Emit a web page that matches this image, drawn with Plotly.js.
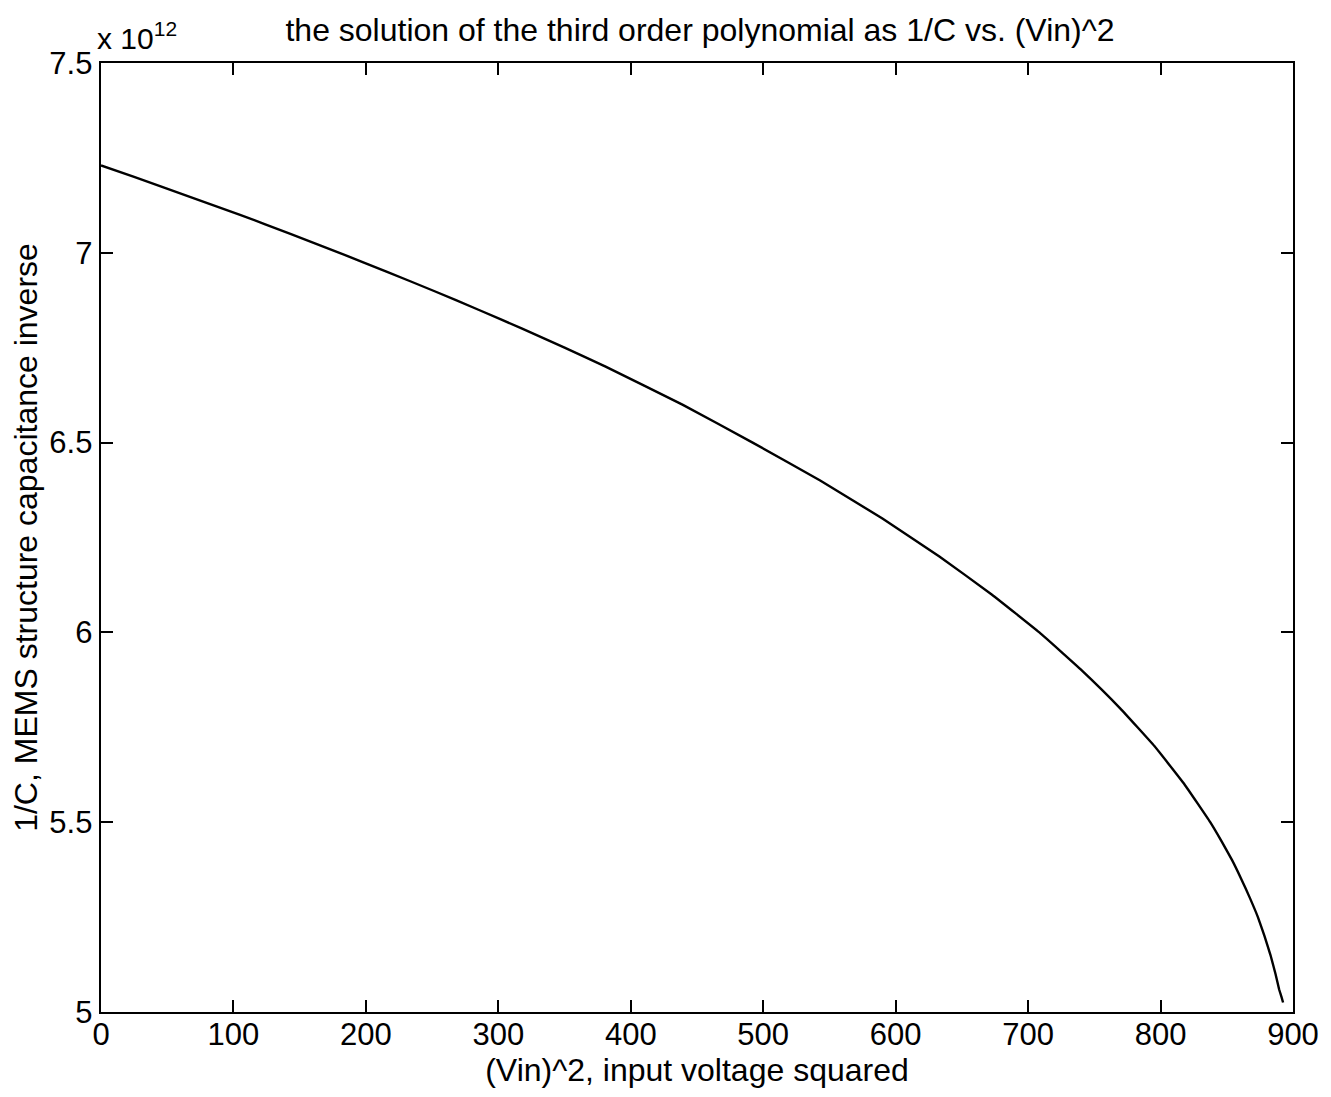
<!DOCTYPE html>
<html>
<head>
<meta charset="utf-8">
<script src="https://cdn.plot.ly/plotly-3.0.1.min.js"></script>
<style>
  html, body { margin: 0; padding: 0; background: #ffffff; }
  #chart { width: 1331px; height: 1097px; }
</style>
</head>
<body>
<div id="chart"></div>
<script>
// (Vin)^2 values
const vinSquared = [0, 25, 65, 105, 143, 180, 216, 251, 285, 318, 350, 381, 439, 492, 543, 590, 633, 672.5, 708.5, 740.5, 769.5, 795.5, 818, 837.5, 846, 854, 861, 867.5, 873.5, 878.5, 883, 886.8, 889.5, 891.3, 892.5];
// 1/C values, in units of 10^12
const invCapacitance = [7.23, 7.20, 7.15, 7.10, 7.05, 7.00, 6.95, 6.90, 6.85, 6.80, 6.75, 6.70, 6.60, 6.50, 6.40, 6.30, 6.20, 6.10, 6.00, 5.90, 5.80, 5.70, 5.60, 5.50, 5.45, 5.40, 5.35, 5.30, 5.25, 5.20, 5.15, 5.10, 5.06, 5.04, 5.025];

const xTicks = [0, 100, 200, 300, 400, 500, 600, 700, 800, 900];
const yTicks = [5, 5.5, 6, 6.5, 7, 7.5];
const yTickLabels = ['5', '5.5', '6', '6.5', '7', '7.5'];

const titleText = 'the solution of the third order polynomial as 1/C vs. (Vin)^2';
const xTitle = '(Vin)^2, input voltage squared';
const yTitle = '1/C, MEMS structure capacitance inverse';
const exponentText = 'x 10<sup>12</sup>';

const FONT = 'Liberation Sans, Arial, Helvetica, sans-serif';

const trace = {
  x: vinSquared,
  y: invCapacitance,
  type: 'scatter',
  mode: 'lines',
  line: { color: '#000000', width: 2.4, shape: 'spline', smoothing: 0.3 },
  hoverinfo: 'skip',
  showlegend: false
};

const axisCommon = {
  showline: true,
  linecolor: '#000000',
  linewidth: 2.4,
  mirror: 'ticks',
  ticks: 'inside',
  ticklen: 12,
  tickwidth: 2,
  tickcolor: '#000000',
  showgrid: false,
  zeroline: false,
  tickfont: { family: FONT, size: 31, color: '#000000' }
};

const layout = {
  width: 1331,
  height: 1097,
  paper_bgcolor: '#ffffff',
  plot_bgcolor: '#ffffff',
  margin: { l: 101, r: 38, t: 63, b: 85 },
  title: {
    text: titleText,
    font: { family: FONT, size: 32, color: '#000000' },
    x: 0.5025, xanchor: 'center', xref: 'paper',
    y: 0.973, yanchor: 'middle', yref: 'container'
  },
  xaxis: Object.assign({}, axisCommon, {
    range: [0, 900],
    tickmode: 'array',
    tickvals: xTicks,
    ticktext: xTicks.map(String),
    ticklabelstandoff: -7,
    title: { text: xTitle, font: { family: FONT, size: 32, color: '#000000' }, standoff: 0 }
  }),
  yaxis: Object.assign({}, axisCommon, {
    range: [5, 7.5],
    tickmode: 'array',
    tickvals: yTicks,
    ticktext: yTickLabels,
    title: { text: yTitle, font: { family: FONT, size: 32, color: '#000000' }, standoff: 2 }
  }),
  annotations: [{
    text: exponentText,
    xref: 'paper', yref: 'paper',
    x: 0, y: 1,
    xanchor: 'left', yanchor: 'bottom',
    xshift: -6, yshift: 6,
    showarrow: false,
    font: { family: FONT, size: 30, color: '#000000' }
  }]
};

Plotly.newPlot('chart', [trace], layout, { staticPlot: true, displayModeBar: false });
</script>
</body>
</html>
